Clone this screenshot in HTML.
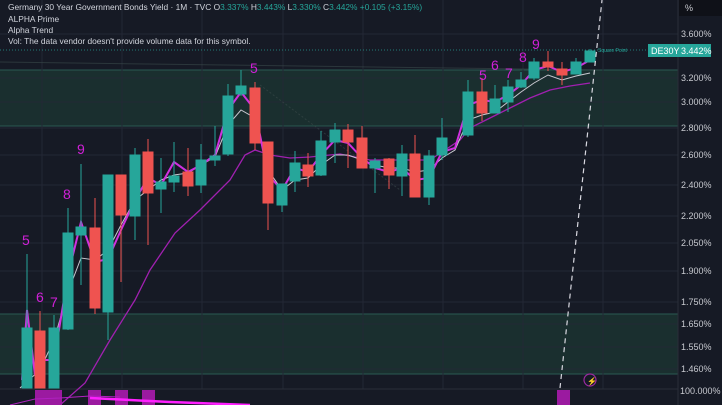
<!DOCTYPE html>
<html><head><meta charset="utf-8"><style>
html,body{margin:0;padding:0;background:#161a25;}
svg{display:block;font-family:"Liberation Sans",sans-serif;}
</style></head><body>
<svg width="722" height="405" viewBox="0 0 722 405" xmlns="http://www.w3.org/2000/svg">
<rect width="722" height="405" fill="#161a25"/>
<rect x="0" y="70" width="678" height="56" fill="#1a302f" opacity="0.95"/>
<rect x="0" y="314" width="678" height="60" fill="#1a302f" opacity="0.95"/>
<line x1="0" y1="70" x2="678" y2="70" stroke="#2a5a52" stroke-width="1"/>
<line x1="0" y1="126" x2="678" y2="126" stroke="#2a5a52" stroke-width="1"/>
<line x1="0" y1="314" x2="678" y2="314" stroke="#2a5a52" stroke-width="1"/>
<line x1="0" y1="374" x2="678" y2="374" stroke="#2a5a52" stroke-width="1"/>
<g stroke="#232835" stroke-width="1">
<line x1="0" y1="34" x2="678" y2="34"/><line x1="0" y1="78" x2="678" y2="78"/><line x1="0" y1="102" x2="678" y2="102"/>
<line x1="0" y1="128" x2="678" y2="128"/><line x1="0" y1="155" x2="678" y2="155"/><line x1="0" y1="185" x2="678" y2="185"/>
<line x1="0" y1="216" x2="678" y2="216"/><line x1="0" y1="243" x2="678" y2="243"/><line x1="0" y1="271" x2="678" y2="271"/>
<line x1="0" y1="302" x2="678" y2="302"/><line x1="0" y1="324" x2="678" y2="324"/><line x1="0" y1="347" x2="678" y2="347"/>
<line x1="0" y1="369" x2="678" y2="369"/>
<line x1="42" y1="0" x2="42" y2="389"/><line x1="122" y1="0" x2="122" y2="389"/><line x1="202" y1="0" x2="202" y2="389"/>
<line x1="283" y1="0" x2="283" y2="389"/><line x1="363" y1="0" x2="363" y2="389"/><line x1="443" y1="0" x2="443" y2="389"/>
<line x1="523" y1="0" x2="523" y2="389"/><line x1="603" y1="0" x2="603" y2="389"/>
</g>
<line x1="0" y1="389" x2="678" y2="389" stroke="#2a2e39"/>
<line x1="678" y1="0" x2="678" y2="405" stroke="#2a2e39"/>
<line x1="0" y1="50" x2="648" y2="50" stroke="#26a69a" stroke-dasharray="1,2" opacity="0.7"/>
<line x1="0" y1="62" x2="600" y2="70" stroke="#3a4a4a" opacity="0.6"/>
<line x1="260" y1="85" x2="400" y2="190" stroke="#3a4a4a" stroke-dasharray="2,2" opacity="0.6"/>
<polyline fill="none" stroke="#a020b0" stroke-width="1.3" points="60,405 85,383 110,340 135,300 150,270 175,233 200,210 230,180 245,155 255,150 270,155 290,158 310,157 340,154 370,160 400,160 430,160 445,150 460,140 470,128 490,118 510,108 530,98 550,90 570,86 590,83"/>
<polyline fill="none" stroke="#c8c8d0" stroke-width="1" points="20,388 40,370 54,340 68,292 81,258 95,260 108,250 121,225 135,200 148,190 161,180 174,175 188,173 201,165 215,157 228,125 241,110 255,118 268,170 282,190 295,180 308,178 321,165 335,155 348,155 362,160 375,165 389,168 402,168 415,172 429,170 442,158 455,150 468,120 482,115 495,112 508,102 521,92 534,83 548,75 562,80 576,76 590,73"/>
<polyline fill="none" stroke="#d030e0" stroke-width="2" points="22,380 27,310 35,375 40,360 54,360 68,275 81,222 95,262 108,259 121,230 135,200 148,178 161,185 174,162 188,172 201,165 215,155 228,110 241,92 255,110 268,175 282,190 295,168 308,172 321,155 335,140 348,143 362,158 375,168 389,172 402,168 415,180 429,178 442,152 455,148 468,105 482,100 495,102 508,95 521,85 534,70 548,66 562,72 576,68 590,60"/>
<g>
<g fill="#26a69a" stroke="#26a69a">
<line x1="27" y1="254" x2="27" y2="388"/><rect x="22" y="328" width="10" height="60"/>
<line x1="54" y1="315" x2="54" y2="388"/><rect x="49" y="328" width="10" height="60"/>
<line x1="68" y1="208" x2="68" y2="330"/><rect x="63" y="233" width="10" height="96"/>
<line x1="81" y1="164" x2="81" y2="285"/><rect x="76" y="227" width="10" height="8"/>
<line x1="108" y1="175" x2="108" y2="340"/><rect x="103" y="175" width="10" height="137"/>
<line x1="135" y1="148" x2="135" y2="240"/><rect x="130" y="155" width="10" height="61"/>
<line x1="161" y1="158" x2="161" y2="213"/><rect x="156" y="182" width="10" height="7"/>
<line x1="174" y1="142" x2="174" y2="192"/><rect x="169" y="176" width="10" height="6"/>
<line x1="201" y1="144" x2="201" y2="193"/><rect x="196" y="160" width="10" height="25"/>
<line x1="215" y1="126" x2="215" y2="166"/><rect x="210" y="156" width="10" height="4"/>
<line x1="228" y1="84" x2="228" y2="156"/><rect x="223" y="96" width="10" height="58"/>
<line x1="241" y1="70" x2="241" y2="96"/><rect x="236" y="86" width="10" height="8"/>
<line x1="282" y1="184" x2="282" y2="212"/><rect x="277" y="184" width="10" height="21"/>
<line x1="295" y1="151" x2="295" y2="192"/><rect x="290" y="163" width="10" height="18"/>
<line x1="321" y1="131" x2="321" y2="176"/><rect x="316" y="141" width="10" height="34"/>
<line x1="335" y1="123" x2="335" y2="163"/><rect x="330" y="130" width="10" height="12"/>
<line x1="375" y1="158" x2="375" y2="193"/><rect x="370" y="161" width="10" height="7"/>
<line x1="402" y1="145" x2="402" y2="196"/><rect x="397" y="154" width="10" height="22"/>
<line x1="429" y1="150" x2="429" y2="205"/><rect x="424" y="156" width="10" height="41"/>
<line x1="442" y1="118" x2="442" y2="160"/><rect x="437" y="138" width="10" height="17"/>
<line x1="468" y1="80" x2="468" y2="137"/><rect x="463" y="92" width="10" height="43"/>
<line x1="495" y1="85" x2="495" y2="113"/><rect x="490" y="99" width="10" height="14"/>
<line x1="508" y1="80" x2="508" y2="112"/><rect x="503" y="87" width="10" height="15"/>
<line x1="521" y1="72" x2="521" y2="88"/><rect x="516" y="80" width="10" height="7"/>
<line x1="534" y1="58" x2="534" y2="80"/><rect x="529" y="62" width="10" height="16"/>
<line x1="576" y1="58" x2="576" y2="74"/><rect x="571" y="62" width="10" height="12"/>
<line x1="590" y1="49" x2="590" y2="62"/><rect x="585" y="51" width="10" height="11"/>
</g>
<g fill="#ef5350" stroke="#ef5350">
<line x1="40" y1="311" x2="40" y2="388"/><rect x="35" y="331" width="10" height="57"/>
<line x1="95" y1="198" x2="95" y2="314"/><rect x="90" y="228" width="10" height="80"/>
<line x1="121" y1="175" x2="121" y2="282"/><rect x="116" y="175" width="10" height="40"/>
<line x1="148" y1="139" x2="148" y2="245"/><rect x="143" y="152" width="10" height="41"/>
<line x1="188" y1="148" x2="188" y2="196"/><rect x="183" y="172" width="10" height="14"/>
<line x1="255" y1="82" x2="255" y2="150"/><rect x="250" y="88" width="10" height="55"/>
<line x1="268" y1="142" x2="268" y2="230"/><rect x="263" y="142" width="10" height="61"/>
<line x1="308" y1="153" x2="308" y2="187"/><rect x="303" y="165" width="10" height="11"/>
<line x1="348" y1="124" x2="348" y2="168"/><rect x="343" y="130" width="10" height="12"/>
<line x1="362" y1="126" x2="362" y2="168"/><rect x="357" y="138" width="10" height="30"/>
<line x1="389" y1="158" x2="389" y2="189"/><rect x="384" y="159" width="10" height="16"/>
<line x1="415" y1="135" x2="415" y2="197"/><rect x="410" y="154" width="10" height="43"/>
<line x1="482" y1="78" x2="482" y2="121"/><rect x="477" y="92" width="10" height="21"/>
<line x1="548" y1="51" x2="548" y2="71"/><rect x="543" y="62" width="10" height="5"/>
<line x1="562" y1="62" x2="562" y2="85"/><rect x="557" y="69" width="10" height="6"/>
</g>
</g>
<line x1="560" y1="388" x2="602" y2="0" stroke="#d8d8e0" stroke-width="1.2" stroke-dasharray="5,4"/>
<g fill="#d020d8" font-size="14">
<text x="22" y="245">5</text><text x="36" y="302">6</text><text x="50" y="307">7</text>
<text x="63" y="199">8</text><text x="77" y="154">9</text><text x="250" y="73">5</text>
<text x="479" y="80">5</text><text x="491" y="70">6</text><text x="505" y="78">7</text>
<text x="519" y="62">8</text><text x="532" y="49">9</text>
</g>
<text x="598" y="52" fill="#26a69a" font-size="5">Square Point</text>
<g fill="#9b1aa0">
<rect x="35" y="390" width="27" height="15"/><rect x="88" y="390" width="13" height="15"/>
<rect x="115" y="390" width="13" height="15"/><rect x="142" y="390" width="13" height="15"/>
<rect x="557" y="390" width="13" height="15"/>
</g>
<polyline fill="none" stroke="#b020c0" stroke-width="1" points="10,405 35,399 60,398 90,396 120,397"/>
<polyline fill="none" stroke="#ff20ff" stroke-width="2.5" points="90,398 170,402 250,405"/>
<circle cx="590" cy="380" r="6" fill="none" stroke="#9b2aa0" stroke-width="1.2"/>
<text x="587" y="384" fill="#c040c8" font-size="8">⚡</text>
<rect x="679" y="0" width="43" height="16" fill="#0f1118"/>
<text x="685" y="11" fill="#c8cad0" font-size="9">%</text>
<g fill="#c8cad0" font-size="9">
<text x="681" y="37">3.600%</text><text x="681" y="81">3.200%</text><text x="681" y="105">3.000%</text>
<text x="681" y="131">2.800%</text><text x="681" y="158">2.600%</text><text x="681" y="188">2.400%</text>
<text x="681" y="219">2.200%</text><text x="681" y="246">2.050%</text><text x="681" y="274">1.900%</text>
<text x="681" y="305">1.750%</text><text x="681" y="327">1.650%</text><text x="681" y="350">1.550%</text>
<text x="681" y="372">1.460%</text><text x="680" y="394">100.000%</text>
</g>
<rect x="648" y="44" width="30" height="13" fill="#26a69a"/>
<rect x="678" y="44" width="33" height="13" fill="#26a69a"/>
<text x="651" y="54" fill="#fff" font-size="9">DE30Y</text>
<text x="681" y="54" fill="#fff" font-size="9">3.442%</text>
<g font-size="8.4" fill="#d1d4dc">
<text x="8" y="10">Germany 30 Year Government Bonds Yield · 1M · TVC  <tspan>O</tspan><tspan fill="#26a69a">3.337%</tspan> H<tspan fill="#26a69a">3.443%</tspan> L<tspan fill="#26a69a">3.330%</tspan> C<tspan fill="#26a69a">3.442% +0.105 (+3.15%)</tspan></text>
<text x="8" y="22">ALPHA Prime</text>
<text x="8" y="33">Alpha Trend</text>
<text x="8" y="44">Vol: The data vendor doesn't provide volume data for this symbol.</text>
</g>
</svg>
</body></html>
